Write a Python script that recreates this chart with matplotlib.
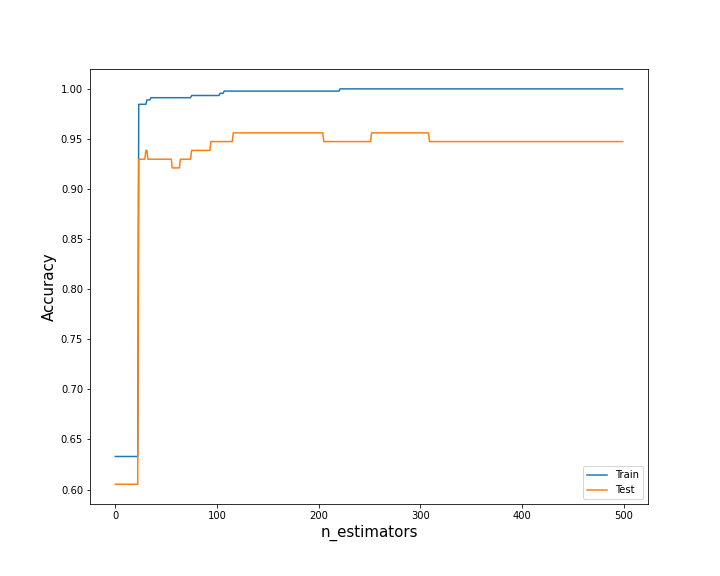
import matplotlib
matplotlib.use("Agg")
import matplotlib.pyplot as plt


# --- Corner points (n_estimators index, accuracy) ---
train_x = [0, 22, 23, 30, 31, 34, 35, 74, 75, 102, 103, 106, 107, 220, 221, 499]
train_acc = [0.6330, 0.6330, 0.9846, 0.9846, 0.9890, 0.9890, 0.9912, 0.9912,
             0.9934, 0.9934, 0.9956, 0.9956, 0.9978, 0.9978, 1.0000, 1.0000]

test_x = [0, 22, 23, 29, 30, 31, 32, 55, 56, 63, 64, 74, 75, 93, 94,
          115, 116, 204, 205, 251, 252, 308, 309, 499]
test_acc = [0.6053, 0.6053, 0.9298, 0.9298, 0.9386, 0.9386, 0.9298, 0.9298,
            0.9211, 0.9211, 0.9298, 0.9298, 0.9386, 0.9386, 0.9474,
            0.9474, 0.9561, 0.9561, 0.9474, 0.9474, 0.9561, 0.9561, 0.9474, 0.9474]


# --- Plot ---
fig = plt.figure(figsize=(10, 8), dpi=72)
ax = fig.add_axes([0.125, 0.125, 0.775, 0.755])

ax.plot(train_x, train_acc, label="Train")
ax.plot(test_x, test_acc, label="Test")

ax.set_xlabel("n_estimators", fontsize=15)
ax.set_ylabel("Accuracy", fontsize=15)
ax.legend(loc="lower right")

plt.savefig("out.png", dpi=72)
